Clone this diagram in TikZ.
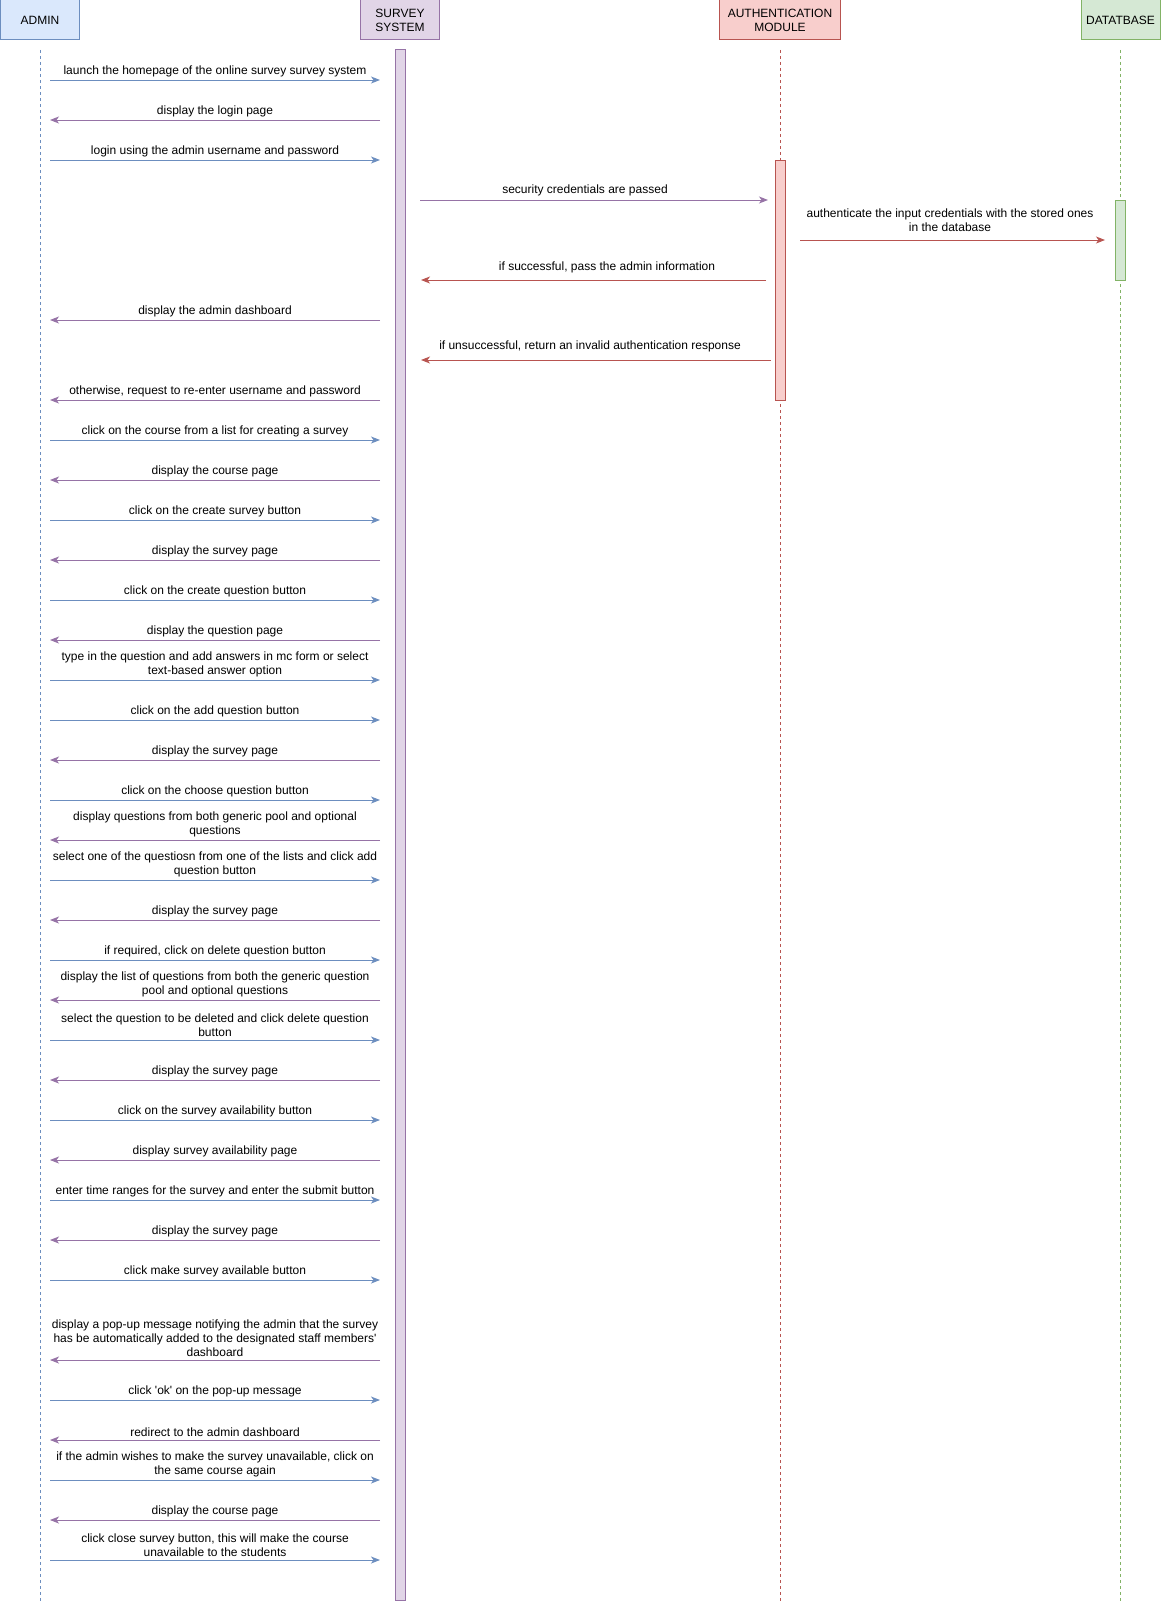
\documentclass[tikz,border=0pt]{standalone}
\usepackage{fontspec}
\setmainfont{Liberation Sans}
\usetikzlibrary{arrows.meta}

\definecolor{bluefill}{HTML}{DAE8FC}\definecolor{bluedraw}{HTML}{6C8EBF}
\definecolor{purplefill}{HTML}{E1D5E7}\definecolor{purpledraw}{HTML}{9673A6}
\definecolor{redfill}{HTML}{F8CECC}\definecolor{reddraw}{HTML}{B85450}
\definecolor{greenfill}{HTML}{D5E8D4}\definecolor{greendraw}{HTML}{82B366}

\tikzset{
  header/.style={draw, line width=1pt, minimum height=40pt, inner sep=0pt, align=center,
                 font=\fontsize{12}{14}\selectfont},
  lifeline/.style={line width=0.9pt, dash pattern=on 3pt off 3pt},
  activation/.style={draw, line width=1pt, minimum width=10pt, inner sep=0pt},
  msg/.style={line width=1pt, -{Stealth[length=9pt,width=7pt,inset=2.5pt]}},
  msglabel/.style={anchor=south, inner sep=0pt, align=center, text=black,
                   font=\fontsize{12}{14}\selectfont},
}

% messages between the admin and the survey system
\newcommand\msgR[2]{%
  \coordinate (ma#1) at (50,#1);
  \coordinate (ms#1) at (380,#1);
  \draw[msg, bluedraw] (ma#1) -- (ms#1);
  \node[msglabel] (lbl#1) at (215,#1-3) {#2};}
\newcommand\msgL[2]{%
  \coordinate (ma#1) at (50,#1);
  \coordinate (ms#1) at (380,#1);
  \draw[msg, purpledraw] (ms#1) -- (ma#1);
  \node[msglabel] (lbl#1) at (215,#1-3) {#2};}

\begin{document}
\begin{tikzpicture}[x=1pt,y=-1pt]
\useasboundingbox (0,0) rectangle (1161,1603);

% participants
\node[header, fill=bluefill, draw=bluedraw, minimum width=79pt] (admin) at (40,20) {ADMIN};
\node[header, fill=purplefill, draw=purpledraw, minimum width=79pt] (survey) at (400,20) {SURVEY\\SYSTEM};
\node[header, fill=redfill, draw=reddraw, minimum width=121pt] (auth) at (780,20) {AUTHENTICATION\\MODULE};
\node[header, fill=greenfill, draw=greendraw, minimum width=79pt] (db) at (1120.5,20) {DATATBASE};

% lifelines
\coordinate (adminEnd) at (40,1603);
\coordinate (authEnd) at (780,1603);
\coordinate (dbEnd) at (1120,1603);
\draw[lifeline, bluedraw] (40,50) -- (adminEnd);
\draw[lifeline, reddraw] (780,50) -- (authEnd);
\draw[lifeline, greendraw] (1120,50) -- (dbEnd);

% activation bars
\node[activation, fill=purplefill, draw=purpledraw, minimum height=1550pt] (surveyBar) at (400,825) {};
\node[activation, fill=redfill, draw=reddraw, minimum height=240pt] (authBar) at (780,280) {};
\node[activation, fill=greenfill, draw=greendraw, minimum height=80pt] (dbBar) at (1120,240) {};

% admin <-> survey system
\msgR{80}{launch the homepage of the online survey survey system}
\msgL{120}{display the login page}
\msgR{160}{login using the admin username and password}

% survey system <-> authentication module <-> database
\coordinate (s200) at (420,200);
\coordinate (a200) at (768,200);
\draw[msg, purpledraw] (s200) -- (a200);
\node[msglabel] (sec) at (585,196) {security credentials are passed};

\coordinate (a240) at (800,240);
\coordinate (d240) at (1105,240);
\draw[msg, reddraw] (a240) -- (d240);
\node[msglabel] (authn) at (950,232) {authenticate the input credentials with the stored ones\\in the database};

\coordinate (a280) at (766,280);
\coordinate (s280) at (421,280);
\draw[msg, reddraw] (a280) -- (s280);
\node[msglabel] (succ) at (607,273) {if successful, pass the admin information};

\coordinate (a360) at (771,360);
\coordinate (s360) at (421,360);
\draw[msg, reddraw] (a360) -- (s360);
\node[msglabel] (unsucc) at (590,352) {if unsuccessful, return an invalid authentication response};

% admin <-> survey system, continued
\msgL{320}{display the admin dashboard}
\msgL{400}{otherwise, request to re-enter username and password}
\msgR{440}{click on the course from a list for creating a survey}
\msgL{480}{display the course page}
\msgR{520}{click on the create survey button}
\msgL{560}{display the survey page}
\msgR{600}{click on the create question button}
\msgL{640}{display the question page}
\msgR{680}{type in the question and add answers in mc form or select\\text-based answer option}
\msgR{720}{click on the add question button}
\msgL{760}{display the survey page}
\msgR{800}{click on the choose question button}
\msgL{840}{display questions from both generic pool and optional\\questions}
\msgR{880}{select one of the questiosn from one of the lists and click add\\question button}
\msgL{920}{display the survey page}
\msgR{960}{if required, click on delete question button}
\msgL{1000}{display the list of questions from both the generic question\\pool and optional questions}
\msgR{1040}{select the question to be deleted and click delete question\\button}
\msgL{1080}{display the survey page}
\msgR{1120}{click on the survey availability button}
\msgL{1160}{display survey availability page}
\msgR{1200}{enter time ranges for the survey and enter the submit button}
\msgL{1240}{display the survey page}
\msgR{1280}{click make survey available button}
\msgL{1360}{display a pop-up message notifying the admin that the survey\\has be automatically added to the designated staff members\textquotesingle\\dashboard}
\msgR{1400}{click \textquotesingle ok\textquotesingle{} on the pop-up message}
\msgL{1440}{redirect to the admin dashboard}
\msgR{1480}{if the admin wishes to make the survey unavailable, click on\\the same course again}
\msgL{1520}{display the course page}
\msgR{1560}{click close survey button, this will make the course\\unavailable to the students}
\end{tikzpicture}
\end{document}
